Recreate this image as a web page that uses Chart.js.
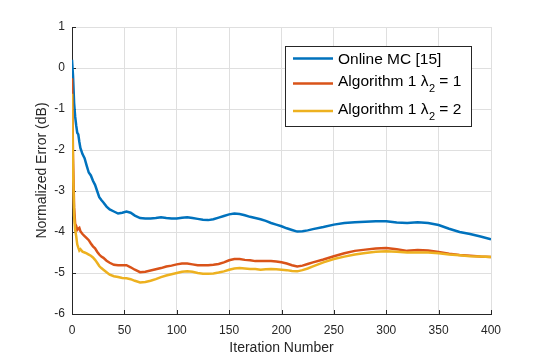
<!DOCTYPE html>
<html><head><meta charset="utf-8">
<script src="https://cdn.jsdelivr.net/npm/chart.js@4"></script>
<style>html,body{margin:0;padding:0;background:#fff}canvas{display:block}</style>
</head><body>
<canvas id="c" width="543" height="359"></canvas>
<script>
const iterations = [0,1,2,3,4,5,6,7,8,10,12,14,16,18,20,22,24,26,28,30,33,36,40,44,48,52,56,60,65,70,75,80,85,90,95,100,105,110,115,120,125,130,135,140,145,150,155,160,165,170,175,180,185,190,195,200,205,210,215,220,225,230,240,250,260,270,280,290,300,310,320,330,340,350,360,370,380,390,400];
const onlineMC = [0.2,-0.2,-0.85,-1.18,-1.4,-1.58,-1.62,-1.8,-1.95,-2.1,-2.2,-2.38,-2.55,-2.62,-2.75,-2.85,-3.0,-3.15,-3.22,-3.28,-3.38,-3.45,-3.5,-3.55,-3.53,-3.5,-3.53,-3.6,-3.66,-3.67,-3.67,-3.66,-3.64,-3.66,-3.67,-3.67,-3.65,-3.64,-3.66,-3.68,-3.7,-3.71,-3.69,-3.65,-3.61,-3.57,-3.55,-3.56,-3.59,-3.63,-3.66,-3.69,-3.73,-3.78,-3.82,-3.86,-3.91,-3.95,-3.99,-3.98,-3.96,-3.93,-3.88,-3.82,-3.78,-3.76,-3.75,-3.74,-3.74,-3.77,-3.78,-3.76,-3.78,-3.83,-3.92,-4.0,-4.05,-4.11,-4.18];
const alg1Lambda1 = [-0.25,-2.2,-3.4,-3.8,-3.85,-3.95,-3.92,-3.9,-3.98,-4.05,-4.1,-4.15,-4.2,-4.28,-4.35,-4.4,-4.48,-4.55,-4.6,-4.63,-4.7,-4.75,-4.8,-4.81,-4.81,-4.81,-4.86,-4.92,-4.98,-4.97,-4.94,-4.91,-4.88,-4.84,-4.82,-4.79,-4.77,-4.77,-4.79,-4.81,-4.81,-4.81,-4.8,-4.78,-4.74,-4.69,-4.66,-4.66,-4.68,-4.69,-4.71,-4.71,-4.71,-4.71,-4.72,-4.74,-4.77,-4.81,-4.84,-4.82,-4.78,-4.74,-4.67,-4.59,-4.52,-4.46,-4.43,-4.4,-4.39,-4.42,-4.46,-4.44,-4.45,-4.49,-4.53,-4.56,-4.58,-4.6,-4.61];
const alg1Lambda2 = [-0.63,-2.5,-3.6,-3.95,-4.1,-4.3,-4.38,-4.45,-4.42,-4.48,-4.5,-4.52,-4.55,-4.58,-4.62,-4.68,-4.75,-4.83,-4.88,-4.92,-4.98,-5.04,-5.08,-5.1,-5.12,-5.13,-5.15,-5.19,-5.23,-5.22,-5.19,-5.15,-5.1,-5.06,-5.03,-5.0,-4.97,-4.96,-4.97,-5.0,-5.02,-5.02,-5.01,-4.99,-4.96,-4.92,-4.89,-4.88,-4.89,-4.9,-4.9,-4.92,-4.91,-4.9,-4.91,-4.92,-4.93,-4.95,-4.96,-4.93,-4.89,-4.84,-4.74,-4.66,-4.6,-4.55,-4.51,-4.48,-4.47,-4.48,-4.5,-4.5,-4.5,-4.52,-4.55,-4.57,-4.59,-4.6,-4.61];
const xTicks = [0,50,100,150,200,250,300,350,400];
const yTicks = [1,0,-1,-2,-3,-4,-5,-6];
const seriesNames = ['Online MC [15]', 'Algorithm 1 ', 'Algorithm 1 '];
const seriesColors = ['#0072BD', '#D95319', '#EDB120'];

const FONT = "'Liberation Sans', Arial, Helvetica, sans-serif";
const INK = '#262626';

function pts(vals){ return iterations.map((x,i)=>({x:x,y:vals[i]})); }

const innerTicks = {
  id:'innerTicks',
  beforeDatasetsDraw(chart){
    const {ctx, chartArea:a, scales:{x,y}} = chart;
    ctx.save();
    ctx.strokeStyle = INK; ctx.lineWidth = 1;
    ctx.beginPath();
    xTicks.forEach(v=>{ const px = Math.round(x.getPixelForValue(v))+0.5; ctx.moveTo(px, a.bottom); ctx.lineTo(px, a.bottom-4); });
    yTicks.forEach(v=>{ const py = Math.round(y.getPixelForValue(v))+0.5; ctx.moveTo(a.left, py); ctx.lineTo(a.left+4, py); });
    ctx.stroke();
    ctx.restore();
  }
};

const legendBox = {
  id:'legendBox',
  afterDraw(chart){
    const ctx = chart.ctx;
    ctx.save();
    const bx=285.5, by=46.5, bw=186, bh=80;
    ctx.fillStyle='#fff'; ctx.fillRect(bx,by,bw,bh);
    ctx.strokeStyle=INK; ctx.lineWidth=1; ctx.strokeRect(bx,by,bw,bh);
    const lineYs=[58.5,83.5,111];
    const textYs=[59.5,82,110];
    const suffix=[null,' = 1',' = 2'];
    for(let i=0;i<3;i++){
      ctx.strokeStyle=seriesColors[i]; ctx.lineWidth=2.5;
      ctx.beginPath(); ctx.moveTo(293,lineYs[i]); ctx.lineTo(333,lineYs[i]); ctx.stroke();
      ctx.fillStyle='#000'; ctx.textBaseline='middle'; ctx.textAlign='left';
      ctx.font='15.5px '+FONT;
      let tx=338;
      ctx.fillText(seriesNames[i], tx, textYs[i]);
      if(suffix[i]){
        tx += ctx.measureText(seriesNames[i]).width;
        ctx.fillText('λ', tx, textYs[i]);
        tx += ctx.measureText('λ').width + 0.5;
        ctx.font='11px '+FONT;
        ctx.fillText('2', tx, textYs[i]+7);
        tx += ctx.measureText('2').width;
        ctx.font='15.5px '+FONT;
        ctx.fillText(suffix[i], tx, textYs[i]);
      }
    }
    ctx.restore();
  }
};

new Chart(document.getElementById('c'), {
  type:'line',
  data:{
    datasets:[
      {label:seriesNames[0], data:pts(onlineMC), borderColor:seriesColors[0], borderWidth:2.5, pointRadius:0, tension:0, order:2},
      {label:seriesNames[1], data:pts(alg1Lambda1), borderColor:seriesColors[1], borderWidth:2.5, pointRadius:0, tension:0, order:1},
      {label:seriesNames[2], data:pts(alg1Lambda2), borderColor:seriesColors[2], borderWidth:2.5, pointRadius:0, tension:0, order:0}
    ]
  },
  options:{
    responsive:false, animation:false,
    layout:{padding:{top:27, right:52, left:0, bottom:0}},
    plugins:{legend:{display:false}, tooltip:{enabled:false}},
    scales:{
      x:{type:'linear', min:0, max:400,
        afterBuildTicks(s){ s.ticks = xTicks.map(v=>({value:v})); },
        afterFit(s){ s.height = 45; },
        grid:{color:'#dfdfdf', drawTicks:false},
        border:{display:true, color:INK, width:1},
        ticks:{font:{size:12, family:FONT}, color:INK, padding:9, maxRotation:0},
        title:{display:true, text:'Iteration Number', font:{size:14, family:FONT}, color:INK, padding:{top:0,bottom:2}}
      },
      y:{type:'linear', min:-6, max:1,
        afterBuildTicks(s){ s.ticks = yTicks.slice().reverse().map(v=>({value:v})); },
        afterFit(s){ s.width = 72; },
        grid:{color:'#dfdfdf', drawTicks:false},
        border:{display:true, color:INK, width:1},
        ticks:{font:{size:12, family:FONT}, color:INK, padding:7},
        title:{display:true, text:'Normalized Error (dB)', font:{size:14, family:FONT}, color:INK, padding:{top:34,bottom:0}}
      }
    }
  },
  plugins:[innerTicks, legendBox]
});
</script>
</body></html>
